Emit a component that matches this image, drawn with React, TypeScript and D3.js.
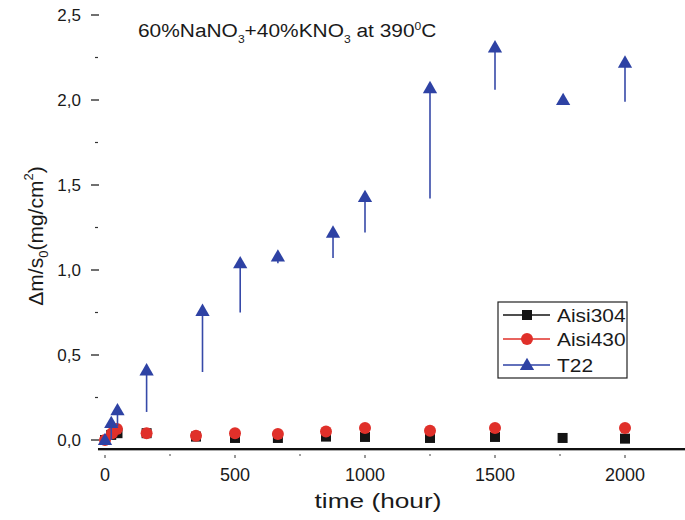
import * as d3 from "d3";

// time (hour) and Δm/s0 values
const tAisi304 = [0, 24, 48, 160, 350, 500, 665, 850, 1000, 1250, 1500, 1760, 2000];
const vAisi304 = [0.0, 0.03, 0.04, 0.04, 0.02, 0.012, 0.012, 0.02, 0.018, 0.012, 0.018, 0.012, 0.008];

const tAisi430 = [0, 27, 46, 160, 350, 500, 665, 850, 1000, 1250, 1500, 2000];
const vAisi430 = [0.0, 0.04, 0.065, 0.04, 0.025, 0.04, 0.035, 0.05, 0.07, 0.055, 0.07, 0.07];

const tT22 = [0, 24, 48, 160, 375, 520, 665, 877, 1000, 1250, 1500, 1762, 2000];
const vT22 = [0.0, 0.1, 0.175, 0.41, 0.76, 1.04, 1.08, 1.22, 1.43, 2.07, 2.31, 2.0, 2.22];
const lowT22 = [0.0, 0.0, 0.08, 0.165, 0.4, 0.75, 1.04, 1.07, 1.22, 1.42, 2.06, 2.0, 1.99];

const yMajor = [0, 0.5, 1.0, 1.5, 2.0, 2.5];
const yMinor = [0.25, 0.75, 1.25, 1.75, 2.25];
const xMajor = [0, 500, 1000, 1500, 2000];
const xMinor = [250, 750, 1250, 1750];

const legendItems = ["Aisi304", "Aisi430", "T22"];

const BLACK = "#141414";
const RED = "#e0302a";
const BLUE = "#2e42a4";
const FONT = "'Liberation Sans', Arial, sans-serif";

export default function App() {
  const x = d3.scaleLinear().domain([0, 2000]).range([105, 625]);
  const y = d3.scaleLinear().domain([0, 2.5]).range([440, 15]);
  const fmt = (v: number) => d3.format(".1f")(v).replace(".", ",");
  const tri = d3.symbol().type(d3.symbolTriangle).size(88);

  const legendX = 498;
  const legendY = 302;
  const rowY = [315, 339, 365];

  return (
    <svg
      width={685}
      height={520}
      style={{ position: "absolute", left: 0, top: 0, background: "#fff", fontFamily: FONT }}
    >
      {/* title */}
      <text transform="translate(138,37) scale(1.1,1)" fontSize={19} fill="#1a1a1a">
        60%NaNO<tspan fontSize={11} dy={6}>3</tspan>
        <tspan dy={-6}>+40%KNO</tspan>
        <tspan fontSize={11} dy={6}>3</tspan>
        <tspan dy={-6}> at 390</tspan>
        <tspan fontSize={11} dy={-7}>0</tspan>
        <tspan dy={7}>C</tspan>
      </text>

      {/* y axis ticks */}
      {yMajor.map((v) => (
        <g key={"ym" + v}>
          <line x1={91} x2={99} y1={y(v)} y2={y(v)} stroke="#222" strokeWidth={1.3} />
          <text x={81} y={y(v) + 6} textAnchor="end" fontSize={17} fill="#1a1a1a">
            {fmt(v)}
          </text>
        </g>
      ))}
      {yMinor.map((v) => (
        <line key={"yn" + v} x1={95} x2={98} y1={y(v)} y2={y(v)} stroke="#333" strokeWidth={1.2} />
      ))}

      {/* y axis title */}
      <text
        transform={`translate(43,${y(1.2)}) rotate(-90)`}
        textAnchor="middle"
        fontSize={21}
        fill="#1a1a1a"
      >
        Δm/s<tspan fontSize={13} dy={5}>0</tspan>
        <tspan dy={-5}>(mg/cm</tspan>
        <tspan fontSize={13} dy={-10}>2</tspan>
        <tspan dy={10}>)</tspan>
      </text>

      {/* x axis */}
      <line x1={x(-27)} x2={x(2240)} y1={449} y2={449} stroke="#111" strokeWidth={2} />
      <line x1={x(-27)} x2={x(2240)} y1={450.5} y2={450.5} stroke="#aaa" strokeWidth={1} />
      {xMajor.map((v) => (
        <g key={"xm" + v}>
          <line x1={x(v)} x2={x(v)} y1={455} y2={458} stroke="#333" strokeWidth={1} />
          <text x={x(v)} y={481} textAnchor="middle" fontSize={18} fill="#1a1a1a">
            {v}
          </text>
        </g>
      ))}
      {xMinor.map((v) => (
        <line key={"xn" + v} x1={x(v)} x2={x(v)} y1={454} y2={456} stroke="#444" strokeWidth={1} />
      ))}
      <text transform="translate(378,508) scale(1.25,1)" textAnchor="middle" fontSize={21} fill="#1a1a1a">
        time (hour)
      </text>

      {/* Aisi304 */}
      {tAisi304.map((t, i) => (
        <rect key={"s" + i} x={x(t) - 5} y={y(vAisi304[i]) - 5} width={10} height={10} fill={BLACK} />
      ))}
      {/* Aisi430 */}
      {tAisi430.map((t, i) => (
        <circle key={"c" + i} cx={x(t)} cy={y(vAisi430[i])} r={6} fill={RED} />
      ))}
      {/* T22 error bars */}
      {tT22.map((t, i) =>
        lowT22[i] < vT22[i] ? (
          <line
            key={"e" + i}
            x1={x(t)}
            x2={x(t)}
            y1={y(vT22[i])}
            y2={y(lowT22[i])}
            stroke="#3649a8"
            strokeWidth={1.6}
          />
        ) : null
      )}
      {tT22.map((t, i) => (
        <path
          key={"t" + i}
          d={tri() as string}
          transform={`translate(${x(t)},${y(vT22[i]) + 1})`}
          fill={BLUE}
        />
      ))}

      {/* legend */}
      <rect x={legendX} y={legendY} width={129} height={76} fill="#fff" stroke="#222" strokeWidth={1.2} />
      {legendItems.map((name, i) => (
        <g key={name}>
          <line
            x1={503}
            x2={550}
            y1={rowY[i]}
            y2={rowY[i]}
            stroke={[BLACK, RED, BLUE][i]}
            strokeWidth={1.3}
          />
          {i === 0 && <rect x={522} y={rowY[i] - 5} width={10} height={10} fill={BLACK} />}
          {i === 1 && <circle cx={527} cy={rowY[i]} r={6} fill={RED} />}
          {i === 2 && (
            <path d={tri() as string} transform={`translate(527,${rowY[i] + 1})`} fill={BLUE} />
          )}
          <text transform={`translate(557,${rowY[i] + 7}) scale(1.1,1)`} fontSize={19} fill="#1a1a1a">
            {name}
          </text>
        </g>
      ))}
    </svg>
  );
}
